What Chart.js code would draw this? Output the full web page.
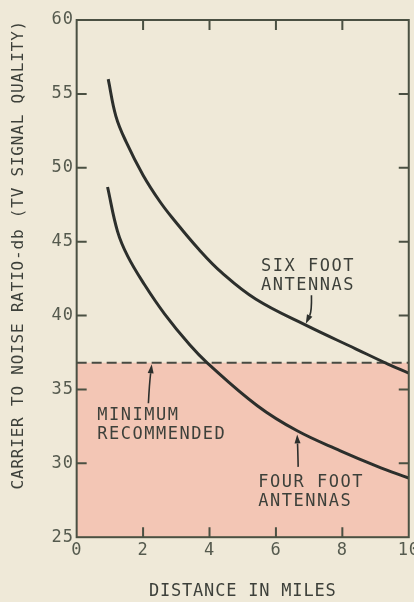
<!DOCTYPE html>
<html><head><meta charset="utf-8">
<script src="https://cdn.jsdelivr.net/npm/chart.js@4/dist/chart.umd.min.js"></script>
<style>
html,body{margin:0;padding:0;background:#efe9d8;overflow:hidden;}
#wrap{width:414px;height:602px;overflow:hidden;position:relative;}
canvas{display:block;}
</style></head><body>
<div id="wrap"><canvas id="c" width="422" height="602"></canvas></div>
<script>
// ---- data ----
const sixFootMiles = [0.95, 1.18, 1.49, 2.0, 2.51, 2.92, 3.67, 4.37, 5.40, 6.90, 8.40, 9.39, 10.0];
const sixFootDb    = [56.0, 53.5, 51.75, 49.5, 47.7, 46.5, 44.5, 42.9, 41.1, 39.35, 37.75, 36.7, 36.1];
const fourFootMiles = [0.93, 1.23, 1.54, 2.04, 2.65, 3.41, 3.93, 5.44, 6.64, 7.94, 9.05, 10.0];
const fourFootDb    = [48.7, 45.7, 44.0, 42.1, 40.1, 38.0, 36.8, 33.9, 32.2, 30.85, 29.8, 29.0];
const minimumRecommendedDb = 36.8;
const xRange = [0, 10];
const yRange = [25, 60];
const xTicks = [0, 2, 4, 6, 8, 10];
const yTicks = [25, 30, 35, 40, 45, 50, 55, 60];
const xTitle = 'DISTANCE IN MILES';
const yTitle = 'CARRIER TO NOISE RATIO-db (TV SIGNAL QUALITY)';
const noteLines = [['SIX FOOT', 'ANTENNAS'], ['MINIMUM', 'RECOMMENDED'], ['FOUR FOOT', 'ANTENNAS']];

// ---- placement / style (not data) ----
const noteAnchors = [{x: 5.55, y: 43.0}, {x: 0.62, y: 32.92}, {x: 5.47, y: 28.38}];
const arrows = [
  {from: [7.07, 41.38], ctrl: [7.08, 40.3], to: [6.90, 39.45]},
  {from: [2.16, 34.07], ctrl: [2.19, 35.4], to: [2.26, 36.7]},
  {from: [6.67, 29.76], ctrl: [6.66, 30.8], to: [6.64, 31.95]}
];
const MONO = '"DejaVu Sans Mono", monospace';
const ink = '#2c2f2c';
const axisInk = '#4a5042';
const textInk = '#3d403a';
const tickInk = '#555a4e';
const pink = '#f3c6b5';

const pts = (xs, ys) => xs.map((v, i) => ({x: v, y: ys[i]}));

const decor = {
  id: 'decor',
  beforeDraw(chart) { chart.ctx.letterSpacing = '0.8px'; },
  afterDatasetsDraw(chart) {
    const {ctx, chartArea: a, scales: {x, y}} = chart;
    ctx.save();
    ctx.strokeStyle = axisInk; ctx.lineWidth = 2;
    ctx.strokeRect(a.left, a.top, a.right - a.left, a.bottom - a.top);
    ctx.beginPath();
    xTicks.forEach(v => {
      if (v === xRange[0] || v === xRange[1]) return;
      const p = x.getPixelForValue(v);
      ctx.moveTo(p, a.bottom); ctx.lineTo(p, a.bottom - 10);
      ctx.moveTo(p, a.top); ctx.lineTo(p, a.top + 10);
    });
    yTicks.forEach(v => {
      if (v === yRange[0] || v === yRange[1]) return;
      const p = y.getPixelForValue(v);
      ctx.moveTo(a.left, p); ctx.lineTo(a.left + 10, p);
      ctx.moveTo(a.right, p); ctx.lineTo(a.right - 10, p);
    });
    ctx.stroke();
    // arrows
    ctx.strokeStyle = ink; ctx.fillStyle = ink; ctx.lineWidth = 1.6;
    arrows.forEach(ar => {
      const fx = x.getPixelForValue(ar.from[0]), fy = y.getPixelForValue(ar.from[1]);
      const cx = x.getPixelForValue(ar.ctrl[0]), cy = y.getPixelForValue(ar.ctrl[1]);
      const tx = x.getPixelForValue(ar.to[0]), ty = y.getPixelForValue(ar.to[1]);
      const ang = Math.atan2(ty - cy, tx - cx);
      const L = 9, W = 3;
      const bx = tx - L * Math.cos(ang), by = ty - L * Math.sin(ang);
      ctx.beginPath(); ctx.moveTo(fx, fy); ctx.quadraticCurveTo(cx, cy, bx, by); ctx.stroke();
      ctx.beginPath();
      ctx.moveTo(tx, ty);
      ctx.lineTo(bx + W * Math.sin(ang), by - W * Math.cos(ang));
      ctx.lineTo(bx - W * Math.sin(ang), by + W * Math.cos(ang));
      ctx.closePath(); ctx.fill();
    });
    // notes
    ctx.font = '17px ' + MONO; ctx.letterSpacing = '1.5px';
    ctx.fillStyle = textInk; ctx.textAlign = 'left'; ctx.textBaseline = 'alphabetic';
    noteLines.forEach((lines, i) => {
      const px = x.getPixelForValue(noteAnchors[i].x), py = y.getPixelForValue(noteAnchors[i].y);
      lines.forEach((t, j) => ctx.fillText(t, px, py + j * 19));
    });
    ctx.restore();
  }
};

new Chart(document.getElementById('c'), {
  type: 'line',
  data: {
    datasets: [
      {label: 'Six foot antennas', data: pts(sixFootMiles, sixFootDb), borderColor: ink, borderWidth: 3,
       pointRadius: 0, tension: 0.4, fill: false, order: 0},
      {label: 'Four foot antennas', data: pts(fourFootMiles, fourFootDb), borderColor: ink, borderWidth: 3,
       pointRadius: 0, tension: 0.4, fill: false, order: 0},
      {label: 'Minimum recommended', data: pts(xRange, [minimumRecommendedDb, minimumRecommendedDb]),
       borderColor: '#474a42', borderWidth: 2, borderDash: [10, 5], pointRadius: 0,
       fill: 'start', backgroundColor: pink, order: 2}
    ]
  },
  options: {
    responsive: false, animation: false, devicePixelRatio: 1,
    layout: {padding: {top: 20, right: 0, left: 0, bottom: 0}},
    plugins: {legend: {display: false}, tooltip: {enabled: false}},
    scales: {
      x: {type: 'linear', min: xRange[0], max: xRange[1],
          afterBuildTicks: s => { s.ticks = xTicks.map(v => ({value: v})); },
          grid: {display: false, drawTicks: false, tickLength: 0}, border: {display: false},
          ticks: {padding: 3, color: tickInk, font: {family: MONO, size: 17}, maxRotation: 0, autoSkip: false},
          title: {display: true, text: xTitle, color: textInk, font: {family: MONO, size: 17}, padding: {top: 18, bottom: 0}}},
      y: {type: 'linear', min: yRange[0], max: yRange[1],
          afterBuildTicks: s => { s.ticks = yTicks.map(v => ({value: v})); },
          grid: {display: false, drawTicks: false, tickLength: 0}, border: {display: false},
          ticks: {padding: 3, color: tickInk, font: {family: MONO, size: 17}, autoSkip: false},
          title: {display: true, text: yTitle, align: 'end', color: textInk, font: {family: MONO, size: 16}, padding: {top: 9, bottom: 22}}}
    }
  },
  plugins: [decor]
});
</script>
</body></html>
